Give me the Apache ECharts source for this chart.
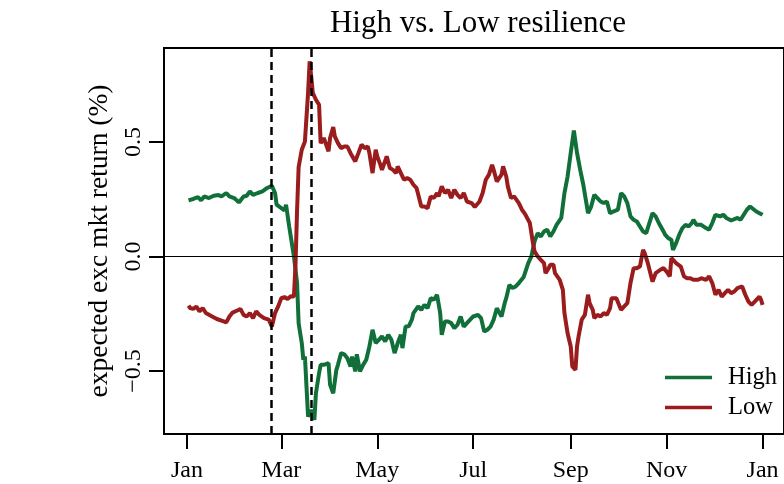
<!DOCTYPE html>
<html>
<head>
<meta charset="utf-8">
<script src="https://cdn.jsdelivr.net/npm/echarts@6/dist/echarts.min.js"></script>
<style>
  html, body { margin: 0; padding: 0; background: #fff; }
  #chart { width: 784px; height: 484px; }
</style>
</head>
<body>
<div id="chart"></div>
<script>
// day of year (0 = Jan 1) and expected excess market return (%)
const highDays = [1, 4, 7, 9, 11, 14, 17, 20, 22, 25, 27, 30, 33, 36, 38, 40, 42, 45, 48, 51, 54, 56, 57, 60, 62, 63, 65, 68, 70, 71, 72, 73, 74, 75, 77, 78, 79, 81, 82, 84, 85, 87, 90, 91, 92, 93, 95, 96, 98, 100, 102, 104, 105, 107, 108, 110, 112, 114, 116, 118, 120, 122, 124, 126, 128, 130, 132, 134, 136, 137, 139, 141, 143, 144, 147, 149, 151, 153, 155, 157, 159, 161, 162, 164, 166, 168, 170, 172, 174, 176, 178, 182, 185, 187, 189, 191, 193, 195, 197, 200, 202, 203, 205, 207, 209, 211, 214, 216, 217, 219, 221, 223, 225, 227, 229, 231, 233, 235, 238, 240, 242, 244, 246, 248, 250, 252, 253, 255, 257, 259, 261, 263, 265, 267, 269, 271, 274, 276, 278, 280, 282, 284, 286, 288, 290, 292, 294, 296, 298, 300, 303, 304, 306, 308, 309, 311, 313, 315, 317, 319, 321, 322, 324, 327, 330, 332, 334, 336, 339, 341, 343, 346, 350, 352, 354, 356, 358, 360, 362, 364, 366];
const highVals = [0.245, 0.251, 0.259, 0.245, 0.262, 0.255, 0.265, 0.268, 0.262, 0.277, 0.262, 0.255, 0.236, 0.262, 0.265, 0.284, 0.269, 0.277, 0.284, 0.299, 0.309, 0.277, 0.226, 0.211, 0.201, 0.226, 0.131, 0.0, -0.115, -0.291, -0.335, -0.378, -0.451, -0.437, -0.699, -0.706, -0.670, -0.713, -0.597, -0.509, -0.473, -0.473, -0.466, -0.560, -0.568, -0.597, -0.495, -0.473, -0.422, -0.427, -0.444, -0.480, -0.437, -0.502, -0.427, -0.502, -0.473, -0.451, -0.393, -0.320, -0.378, -0.364, -0.349, -0.371, -0.342, -0.364, -0.422, -0.378, -0.342, -0.400, -0.306, -0.305, -0.276, -0.247, -0.218, -0.233, -0.211, -0.226, -0.182, -0.189, -0.167, -0.247, -0.342, -0.284, -0.284, -0.291, -0.313, -0.298, -0.262, -0.306, -0.291, -0.262, -0.255, -0.269, -0.328, -0.320, -0.306, -0.276, -0.226, -0.262, -0.204, -0.182, -0.124, -0.138, -0.131, -0.116, -0.091, -0.050, -0.029, 0.0, 0.066, 0.102, 0.087, 0.109, 0.117, 0.087, 0.109, 0.138, 0.168, 0.277, 0.349, 0.452, 0.550, 0.452, 0.379, 0.313, 0.306, 0.189, 0.218, 0.269, 0.255, 0.240, 0.233, 0.240, 0.189, 0.196, 0.204, 0.277, 0.262, 0.233, 0.175, 0.160, 0.153, 0.131, 0.109, 0.102, 0.146, 0.189, 0.175, 0.146, 0.109, 0.095, 0.080, 0.073, 0.029, 0.058, 0.095, 0.124, 0.138, 0.131, 0.146, 0.160, 0.138, 0.138, 0.124, 0.117, 0.146, 0.182, 0.175, 0.182, 0.168, 0.157, 0.168, 0.160, 0.182, 0.204, 0.218, 0.207, 0.196, 0.189, 0.182];

const lowDays = [1, 2, 4, 6, 8, 10, 12, 16, 19, 22, 25, 27, 29, 32, 34, 36, 38, 40, 42, 44, 46, 49, 52, 54, 56, 58, 60, 62, 64, 66, 68, 69, 70, 71, 73, 75, 76, 77, 78, 79, 80, 82, 84, 85, 87, 88, 90, 91, 93, 94, 96, 98, 100, 102, 104, 107, 109, 111, 113, 115, 116, 118, 120, 121, 123, 124, 127, 129, 131, 133, 134, 136, 138, 140, 142, 144, 146, 147, 149, 151, 153, 155, 157, 159, 160, 162, 164, 166, 168, 170, 172, 174, 176, 178, 181, 183, 186, 188, 190, 192, 194, 195, 197, 200, 201, 203, 204, 206, 208, 209, 211, 213, 215, 218, 219, 220, 221, 223, 225, 227, 228, 230, 231, 233, 234, 237, 239, 240, 242, 244, 245, 247, 248, 249, 251, 253, 255, 256, 258, 259, 261, 263, 265, 267, 269, 270, 273, 276, 278, 280, 282, 284, 286, 288, 290, 291, 293, 296, 298, 301, 303, 305, 307, 308, 309, 311, 314, 316, 318, 320, 322, 325, 327, 330, 332, 334, 336, 338, 340, 342, 344, 346, 348, 350, 353, 355, 357, 359, 361, 364, 365, 366];
const lowVals = [-0.215, -0.225, -0.229, -0.219, -0.240, -0.225, -0.247, -0.262, -0.273, -0.280, -0.288, -0.262, -0.245, -0.236, -0.229, -0.255, -0.262, -0.247, -0.269, -0.240, -0.255, -0.269, -0.276, -0.306, -0.247, -0.218, -0.182, -0.177, -0.186, -0.174, -0.175, -0.04, 0.2, 0.39, 0.466, 0.502, 0.50, 0.714, 0.852, 0.786, 0.714, 0.684, 0.662, 0.495, 0.517, 0.524, 0.459, 0.517, 0.565, 0.524, 0.495, 0.473, 0.480, 0.480, 0.451, 0.415, 0.451, 0.488, 0.473, 0.480, 0.451, 0.364, 0.466, 0.437, 0.400, 0.378, 0.437, 0.386, 0.378, 0.364, 0.393, 0.364, 0.335, 0.342, 0.335, 0.313, 0.298, 0.291, 0.218, 0.218, 0.211, 0.262, 0.255, 0.277, 0.262, 0.306, 0.277, 0.291, 0.255, 0.291, 0.269, 0.255, 0.277, 0.240, 0.233, 0.216, 0.240, 0.277, 0.335, 0.357, 0.400, 0.378, 0.327, 0.357, 0.393, 0.349, 0.306, 0.255, 0.262, 0.255, 0.233, 0.204, 0.185, 0.146, 0.102, 0.058, 0.022, 0.0, -0.015, -0.029, -0.073, -0.051, -0.036, -0.036, -0.073, -0.102, -0.146, -0.247, -0.335, -0.393, -0.480, -0.495, -0.393, -0.349, -0.276, -0.255, -0.167, -0.204, -0.233, -0.269, -0.255, -0.262, -0.247, -0.255, -0.226, -0.182, -0.182, -0.233, -0.218, -0.204, -0.116, -0.051, -0.051, -0.044, 0.029, 0.015, -0.029, -0.11, -0.073, -0.058, -0.051, -0.066, -0.087, -0.007, -0.015, -0.029, -0.044, -0.087, -0.095, -0.095, -0.102, -0.102, -0.095, -0.102, -0.087, -0.116, -0.167, -0.146, -0.175, -0.160, -0.146, -0.160, -0.153, -0.138, -0.131, -0.167, -0.197, -0.211, -0.197, -0.175, -0.189, -0.211];

const monthDays = [0, 60, 121, 182, 244, 305, 366];
const monthLabels = ['Jan', 'Mar', 'May', 'Jul', 'Sep', 'Nov', 'Jan'];
const yTicks = [-0.5, 0, 0.5];
const eventDays = [53.5, 79];

const serif = '"Liberation Serif", "DejaVu Serif", serif';
const zip = (xs, ys) => xs.map((x, i) => [x, ys[i]]);

const chart = echarts.init(document.getElementById('chart'), null, { renderer: 'canvas' });
chart.setOption({
  animation: false,
  backgroundColor: '#fff',
  title: {
    text: 'High vs. Low resilience',
    left: 473,
    textAlign: 'center',
    top: 3,
    textStyle: { fontFamily: serif, fontSize: 31, fontWeight: 'normal', color: '#000' }
  },
  legend: {
    data: ['High', 'Low'],
    orient: 'vertical',
    left: 660,
    top: 360,
    icon: 'rect',
    itemWidth: 47,
    itemHeight: 3.5,
    itemGap: 5,
    textStyle: { fontFamily: serif, fontSize: 24.5, color: '#000', lineHeight: 25, padding: [0, 0, 0, 11] }
  },
  grid: {
    left: 164, top: 48, width: 622, height: 386,
    show: true, borderColor: '#000', borderWidth: 2
  },
  xAxis: {
    type: 'value',
    min: -14.6,
    max: 379.6,
    splitLine: { show: false },
    axisLine: { onZero: false, lineStyle: { color: '#000', width: 2 } },
    axisTick: { customValues: monthDays, length: 15, lineStyle: { color: '#000', width: 2 } },
    axisLabel: {
      customValues: monthDays,
      formatter: v => monthLabels[monthDays.indexOf(v)],
      margin: 25,
      fontFamily: serif, fontSize: 24, color: '#000'
    }
  },
  yAxis: {
    type: 'value',
    min: -0.775,
    max: 0.91,
    name: 'expected exc mkt return (%)',
    nameLocation: 'middle',
    nameRotate: 90,
    nameGap: 40,
    nameTextStyle: { fontFamily: serif, fontSize: 27.5, color: '#000' },
    splitLine: { show: false },
    axisLine: { show: true, onZero: false, lineStyle: { color: '#000', width: 2 } },
    axisTick: { show: true, customValues: yTicks, length: 15, lineStyle: { color: '#000', width: 2 } },
    axisLabel: {
      customValues: yTicks,
      rotate: 90,
      margin: 18,
      formatter: v => (v < 0 ? '\u2212' + Math.abs(v).toFixed(1) : v.toFixed(1)),
      fontFamily: serif, fontSize: 24, color: '#000'
    }
  },
  series: [
    {
      name: 'High',
      type: 'line',
      data: zip(highDays, highVals),
      showSymbol: false,
      lineStyle: { color: '#11703a', width: 4 },
      itemStyle: { color: '#11703a' },
      markLine: {
        silent: true,
        symbol: 'none',
        label: { show: false },
        data: [
          { yAxis: 0, lineStyle: { color: '#000', width: 1, type: 'solid' } },
          ...eventDays.map(d => ({ xAxis: d, lineStyle: { color: '#000', width: 2.5, type: [8, 5] } }))
        ]
      }
    },
    {
      name: 'Low',
      type: 'line',
      data: zip(lowDays, lowVals),
      showSymbol: false,
      lineStyle: { color: '#9b1c1c', width: 4 },
      itemStyle: { color: '#9b1c1c' }
    }
  ]
})
</script>
</body>
</html>
